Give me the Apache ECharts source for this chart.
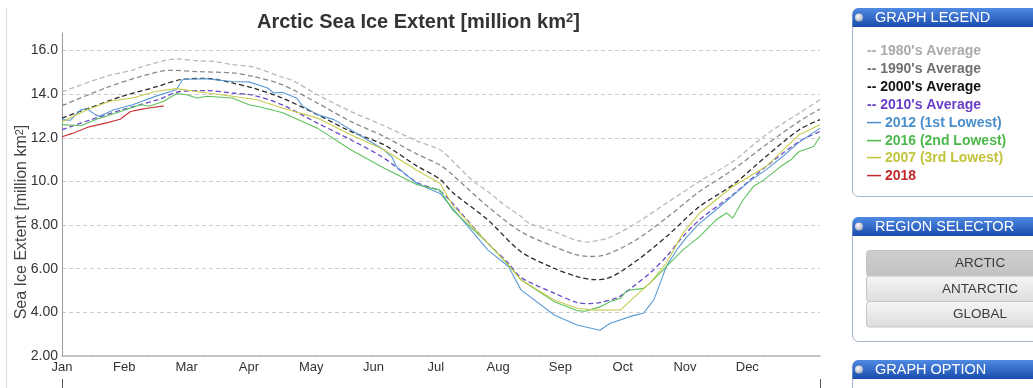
<!DOCTYPE html>
<html><head><meta charset="utf-8">
<script src="https://cdn.jsdelivr.net/npm/echarts@6/dist/echarts.min.js"></script>
<style>html,body{margin:0;padding:0;background:#fff;}#c{width:1033px;height:388px;}</style>
</head><body><div id="c"></div>
<script>
// ---- data (x = day offset from Jan 1, extent in million km2) ----
const monthLabels = ['Jan','Feb','Mar','Apr','May','Jun','Jul','Aug','Sep','Oct','Nov','Dec'];
const monthTickDays = [0,30,60,90,120,150,180,210,240,270,300,330];
const yTickStep = 2;

const avg1980s = [[0,14.1],[21,14.81],[34,15.1],[38,15.24],[55,15.61],[66,15.52],[73,15.5],[82,15.35],[92,15.24],[106,14.78],[111,14.62],[123,13.97],[139,13.21],[155,12.55],[171,11.85],[182,11.45],[188,10.95],[197,10.1],[205,9.54],[212,9.0],[221,8.39],[225,8.08],[237,7.7],[242,7.5],[248,7.3],[253,7.22],[259,7.32],[263,7.4],[275,8.0],[291,9.0],[307,10.0],[323,10.91],[339,12.14],[355,13.13],[365,13.74]];
const avg1990s = [[0,13.47],[21,14.28],[38,14.81],[52,15.09],[66,15.03],[82,14.97],[92,14.81],[106,14.43],[123,13.59],[139,12.75],[155,12.06],[171,11.25],[182,10.75],[188,10.3],[205,8.85],[221,7.7],[237,7.01],[248,6.63],[254,6.56],[259,6.58],[275,7.24],[291,8.32],[307,9.54],[323,10.53],[339,11.68],[355,12.75],[365,13.32]];
const avg2000s = [[0,12.9],[13,13.36],[29,13.9],[46,14.35],[57,14.66],[70,14.72],[82,14.51],[92,14.28],[106,13.82],[123,13.06],[139,12.29],[155,11.68],[171,10.7],[182,10.1],[188,9.5],[205,8.24],[221,6.78],[237,6.02],[248,5.64],[256,5.5],[262,5.54],[275,6.25],[291,7.47],[307,8.85],[323,9.84],[339,11.14],[355,12.37],[365,12.83]];
const avg2010s = [[0,12.37],[13,12.8],[29,13.28],[46,13.74],[57,14.12],[70,14.16],[82,14.05],[92,13.95],[106,13.51],[123,12.67],[139,11.91],[155,11.07],[171,9.95],[182,9.55],[188,9.0],[205,7.17],[215,6.25],[221,5.6],[237,4.88],[248,4.45],[254,4.4],[259,4.45],[268,4.7],[275,5.18],[283,5.79],[291,6.55],[299,7.47],[307,8.24],[323,9.39],[339,10.68],[355,11.83],[365,12.29]];
const y2012 = [[0,12.83],[4,12.8],[9,13.28],[12,13.33],[16,13.06],[18,12.98],[25,13.28],[34,13.51],[46,13.93],[55,14.2],[58,14.66],[63,14.69],[70,14.7],[82,14.58],[90,14.56],[99,14.28],[102,14.05],[106,14.08],[113,13.82],[116,13.44],[123,13.06],[131,12.83],[139,12.37],[155,11.45],[159,11.1],[161,10.68],[171,9.9],[182,9.45],[188,8.78],[205,6.86],[215,6.1],[221,5.03],[237,3.88],[248,3.42],[259,3.18],[264,3.5],[275,3.85],[280,3.96],[285,4.57],[288,5.33],[291,6.1],[296,6.86],[301,7.47],[307,8.08],[315,8.7],[323,9.35],[331,10.0],[339,10.53],[347,11.14],[355,11.8],[365,12.44]];
const y2016 = [[0,12.6],[9,12.55],[17,12.86],[25,13.1],[33,13.36],[38,13.51],[42,13.44],[49,13.67],[55,14.02],[60,13.97],[65,13.82],[70,13.9],[82,13.82],[90,13.51],[94,13.44],[106,13.16],[123,12.44],[139,11.45],[155,10.61],[171,9.85],[182,9.6],[188,8.7],[205,7.17],[215,6.17],[221,5.49],[237,4.49],[248,4.08],[252,4.05],[259,4.25],[264,4.5],[269,4.65],[272,5.0],[280,5.1],[283,5.33],[291,6.1],[299,6.86],[307,7.47],[315,8.24],[320,8.55],[323,8.32],[328,9.16],[333,9.77],[338,10.07],[346,10.68],[351,10.99],[355,11.37],[362,11.6],[365,12.06]];
const y2007 = [[0,12.72],[12,13.28],[23,13.67],[34,13.82],[45,14.12],[55,14.25],[70,14.05],[82,13.9],[94,13.74],[106,13.36],[123,12.9],[139,12.14],[155,11.45],[171,10.5],[182,9.92],[188,8.93],[205,7.17],[215,6.17],[221,5.49],[237,4.57],[248,4.19],[257,4.1],[269,4.11],[275,4.65],[283,5.33],[291,6.25],[299,7.63],[307,8.55],[315,9.16],[323,9.77],[339,10.68],[355,12.14],[365,12.6]];
const y2018 = [[0,12.05],[5,12.2],[13,12.5],[21,12.67],[28,12.85],[33,13.2],[38,13.3],[42,13.36],[49,13.46]];

const seriesDefs = [
  {name:"1980's Average", data:avg1980s, color:'#b9b9b9', text:'#aaaaaa', dashed:true},
  {name:"1990's Average", data:avg1990s, color:'#8a8a8a', text:'#707070', dashed:true},
  {name:"2000's Average", data:avg2000s, color:'#2a2a2a', text:'#111111', dashed:true},
  {name:"2010's Average", data:avg2010s, color:'#6a48c8', text:'#6a3fc8', dashed:true},
  {name:"2012 (1st Lowest)", data:y2012, color:'#5b9bd5', text:'#4a8fcc', dashed:false},
  {name:"2016 (2nd Lowest)", data:y2016, color:'#5cc25c', text:'#4cb84c', dashed:false},
  {name:"2007 (3rd Lowest)", data:y2007, color:'#c9cc50', text:'#c2c43c', dashed:false},
  {name:"2018", data:y2018, color:'#cc3333', text:'#c02a2a', dashed:false}
];

const FONT = 'Liberation Sans, Arial, sans-serif';
const chart = echarts.init(document.getElementById('c'), null, {renderer:'canvas'});

function header(y, label) {
  return [
    {type:'rect', shape:{x:852.5, y:y, width:200, height:19, r:[6,6,0,0]},
     style:{fill:{type:'linear',x:0,y:0,x2:0,y2:1,colorStops:[{offset:0,color:'#4f8ae3'},{offset:1,color:'#1a4cae'}]}}},
    {type:'circle', shape:{cx:859, cy:y+9.5, r:4},
     style:{fill:{type:'radial',x:0.4,y:0.35,r:0.7,colorStops:[{offset:0,color:'#ffffff'},{offset:1,color:'#a8a8b8'}]}}},
    {type:'text', x:875, y:y+10, style:{text:label, fill:'#ffffff', font:'14.5px ' + FONT, verticalAlign:'middle'}}
  ];
}
function button(y, h, label, active) {
  return [
    {type:'rect', shape:{x:866.5, y:y, width:200, height:h, r:[3,0,0,3]},
     style:{fill: active ? {type:'linear',x:0,y:0,x2:0,y2:1,colorStops:[{offset:0,color:'#cfcfcf'},{offset:1,color:'#c2c2c2'}]}
                        : {type:'linear',x:0,y:0,x2:0,y2:1,colorStops:[{offset:0,color:'#f6f6f6'},{offset:1,color:'#dcdcdc'}]},
            stroke:'#c4c4c4', lineWidth:1}},
    {type:'text', x:980, y:y+h/2+0.5, style:{text:label, fill:'#3a3a3a', font:'13.5px ' + FONT, align:'center', verticalAlign:'middle'}}
  ];
}

const graphics = [].concat(
  [{type:'line', shape:{x1:6.5,y1:8,x2:6.5,y2:388}, style:{stroke:'#dddddd', lineWidth:1}}],
  [{type:'line', shape:{x1:62.5,y1:379,x2:62.5,y2:388}, style:{stroke:'#555555', lineWidth:1}}],
  [{type:'line', shape:{x1:820.5,y1:379,x2:820.5,y2:388}, style:{stroke:'#555555', lineWidth:1}}],
  [{type:'rect', shape:{x:852.5, y:8.5, width:200, height:188, r:6}, style:{fill:'#ffffff', stroke:'#a3b5cc', lineWidth:1}}],
  header(8, 'GRAPH LEGEND'),
  [{type:'rect', shape:{x:852.5, y:217.5, width:200, height:124, r:6}, style:{fill:'#ffffff', stroke:'#a3b5cc', lineWidth:1}}],
  header(217, 'REGION SELECTOR'),
  button(250.5, 25.5, 'ARCTIC', true),
  button(276, 25.5, 'ANTARCTIC', false),
  button(301.5, 25.5, 'GLOBAL', false),
  [{type:'rect', shape:{x:852.5, y:360.5, width:200, height:60, r:6}, style:{fill:'#ffffff', stroke:'#a3b5cc', lineWidth:1}}],
  header(360, 'GRAPH OPTION'),
  [{type:'text', x:22, y:222, rotation:Math.PI/2,
    style:{text:'{a|Sea Ice Extent [million km}{s|2}{a|]}', align:'center', verticalAlign:'middle',
      rich:{a:{fontSize:16, fontFamily:FONT, fill:'#444', color:'#444'}, s:{fontSize:11, fontFamily:FONT, fill:'#444', color:'#444', verticalAlign:'top'}}}}]
);

const option = {
  animation:false,
  backgroundColor:'#ffffff',
  title:{
    text:'{a|Arctic Sea Ice Extent [million km}{s|2}{a|]}',
    left:252, top:7,
    textStyle:{rich:{
      a:{fontSize:20, fontWeight:'bold', fontFamily:FONT, color:'#333333'},
      s:{fontSize:13, fontWeight:'bold', fontFamily:FONT, color:'#333333', verticalAlign:'top'}
    }}
  },
  legend:{
    orient:'vertical', left:857, top:37.5, itemGap:0, itemWidth:0, itemHeight:0,
    selectedMode:false,
    textStyle:{fontSize:14, fontWeight:'bold', fontFamily:FONT, lineHeight:17.85},
    formatter:function(name){ return (name.indexOf('Average') >= 0 ? '-- ' : '\u2014 ') + name; },
    data: seriesDefs.map(s => ({name:s.name, icon:'rect', textStyle:{color:s.text}}))
  },
  grid:{left:62, right:213, top:33, bottom:32, containLabel:false},
  xAxis:{
    type:'value', min:0, max:365,
    axisLine:{show:true, lineStyle:{color:'#b5b5b5', width:1.5}},
    axisTick:{show:false},
    splitLine:{show:false},
    axisLabel:{
      customValues: monthTickDays,
      formatter:function(v){ const i = monthTickDays.indexOf(v); return i >= 0 ? monthLabels[i] : ''; },
      color:'#333', fontSize:13, fontFamily:FONT, margin:5
    }
  },
  yAxis:{
    type:'value', min:2, max:16.8, interval:yTickStep,
    axisLine:{show:true, lineStyle:{color:'#999999', width:1}},
    axisTick:{show:false},
    splitLine:{show:true, showMaxLine:false, lineStyle:{color:'#cccccc', type:[4,3], width:1}},
    axisLabel:{
      showMaxLabel:false,
      formatter:function(v){ return v >= 10 ? v.toFixed(1) : v.toFixed(2); },
      color:'#333', fontSize:14, fontFamily:FONT, margin:4
    }
  },
  graphic: graphics,
  series: seriesDefs.map(s => ({
    name:s.name, type:'line', data:s.data, showSymbol:false, symbol:'none',
    smooth: s.dashed ? 0.3 : false,
    itemStyle:{color:s.color},
    lineStyle:{color:s.color, width: s.dashed ? 1.3 : 1.1, type: s.dashed ? [5,3] : 'solid'},
    emphasis:{disabled:true}
  }))
};
chart.setOption(option);
</script>
</body></html>
